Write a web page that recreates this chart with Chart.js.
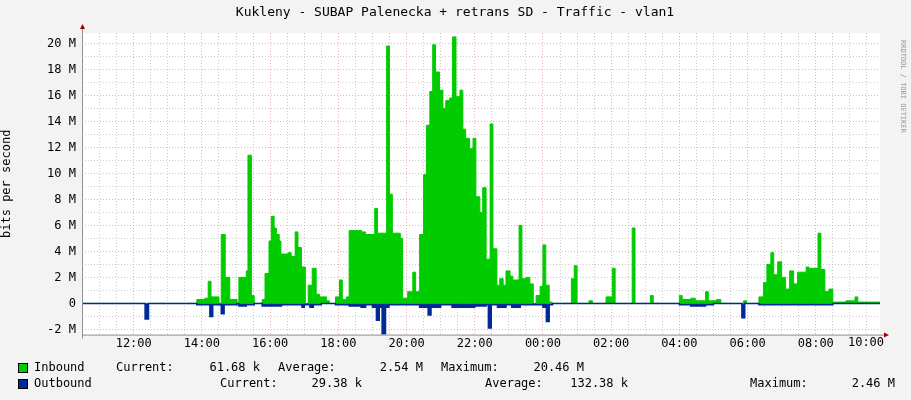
<!DOCTYPE html>
<html><head><meta charset="utf-8">
<script src="https://cdn.jsdelivr.net/npm/chart.js@4/dist/chart.umd.min.js"></script>
<style>html,body{margin:0;background:#f3f3f3}#w{width:911px;height:400px}</style>
</head><body><div id="w"><canvas id="c"></canvas></div>
<script>
// minutes relative to 12:00, values in M bits/s
const inTimes=[-90,111,125,131,136,150,154,161,169,182,185,198,201,207,212,226,231,238,242,247,251,256,259,272,277,284,289,295,302,307,314,321,327,339,344,355,362,367,374,379,401,408,424,429,445,450,455,469,473,482,491,496,503,510,515,521,526,531,538,544,549,556,561,567,574,579,584,591,597,602,609,614,620,627,632,639,644,650,655,662,667,678,683,690,697,703,708,715,720,725,731,736,770,775,780,801,807,831,842,847,877,882,909,914,960,965,980,988,1006,1011,1025,1033,1073,1078,1100,1108,1114,1121,1126,1133,1140,1147,1154,1161,1168,1183,1188,1204,1209,1216,1223,1230,1253,1269,1274,1313];
const inVals=[0,0.3,0.4,1.7,0.5,0,5.3,2.0,0.3,0,2.0,2.5,11.4,0.6,0,0.3,2.3,4.8,6.7,5.8,5.3,4.8,3.8,3.9,3.6,5.5,4.3,2.8,0,1.4,2.7,0.7,0.5,0.2,0,0.5,1.8,0.3,0.5,5.6,5.5,5.3,7.3,5.4,19.8,8.4,5.4,5.0,0.4,0.9,2.4,0.9,5.3,9.9,13.7,16.3,19.9,17.8,16.4,15.0,15.6,15.8,20.5,15.9,16.4,13.4,12.7,11.9,12.7,8.2,7.0,8.9,3.4,13.8,4.2,1.4,1.9,1.4,2.5,2.1,1.8,6.0,1.9,2.0,1.5,0,0.6,1.3,4.5,1.4,0.1,0,1.9,2.9,0,0.2,0,0.5,2.7,0,5.8,0,0.6,0,0.6,0.3,0.4,0.2,0.9,0.2,0.3,0,0.2,0,0.5,1.6,3.0,3.9,2.2,3.2,2.0,1.1,2.5,1.5,2.4,2.8,2.7,5.4,2.6,0.9,1.1,0.1,0.2,0.5,0.1,0.1];
const outTimes=[-90,20,26,111,134,139,154,159,182,185,198,212,226,260,296,300,306,310,316,330,355,379,400,408,420,427,432,437,443,449,480,503,518,523,540,560,600,620,624,629,640,655,665,680,720,726,731,737,960,980,1006,1020,1070,1075,1100,1230,1313];
const outVals=[0,-1.2,0,-0.1,-1.0,-0.1,-0.8,-0.1,0,-0.2,-0.1,0,-0.2,-0.1,-0.3,-0.1,-0.1,-0.3,-0.1,0,-0.1,-0.2,-0.3,-0.1,-0.3,-1.3,-0.3,-2.4,-0.3,-0.1,-0.1,-0.3,-0.9,-0.3,-0.1,-0.3,-0.2,-0.1,-1.9,-0.1,-0.3,-0.1,-0.3,-0.1,-0.3,-1.4,-0.1,0,-0.1,-0.2,-0.1,0,-1.1,0,-0.1,0,0];
const yTickVals=[-2,-1,0,1,2,3,4,5,6,7,8,9,10,11,12,13,14,15,16,17,18,19,20];
const xTickVals=[-60,-30,0,30,60,90,120,150,180,210,240,270,300,330,360,390,420,450,480,510,540,570,600,630,660,690,720,750,780,810,840,870,900,930,960,990,1020,1050,1080,1110,1140,1170,1200,1230,1260,1290];
const title='Kukleny - SUBAP Palenecka + retrans SD - Traffic - vlan1';
// [x, text, align]
const legendRows=[
 {color:'#00cc00',items:[[34,'Inbound','left'],[116,'Current:','left'],[260,'61.68 k','right'],[278,'Average:','left'],[423,'2.54 M','right'],[441,'Maximum:','left'],[584,'20.46 M','right']]},
 {color:'#002a97',items:[[34,'Outbound','left'],[220,'Current:','left'],[362,'29.38 k','right'],[485,'Average:','left'],[628,'132.38 k','right'],[750,'Maximum:','left'],[895,'2.46 M','right']]}
];
const F='"DejaVu Sans Mono", monospace';
const mk=(t,v)=>t.map((x,i)=>({x:x,y:v[i]}));
const deco={id:'deco',
 beforeDraw(c){const g=c.ctx;g.save();g.fillStyle='#f3f3f3';g.fillRect(0,0,c.width,c.height);
  const a=c.chartArea;g.fillStyle='#fff';g.fillRect(a.left,a.top,a.right-a.left,a.bottom-a.top);g.restore();},
 afterDraw(c){const g=c.ctx,a=c.chartArea;g.save();
  g.font='13px '+F;g.fillStyle='#000';g.textAlign='center';g.textBaseline='middle';g.fillText(title,455,13);
  g.font='12px '+F;g.textBaseline='top';g.fillText('10:00',866,a.bottom+2);g.textBaseline='middle';
  g.strokeStyle='#909090';g.lineWidth=1;g.beginPath();g.moveTo(a.left,a.bottom+0.5);g.lineTo(a.right+5,a.bottom+0.5);g.moveTo(a.left+0.5,a.top-4);g.lineTo(a.left+0.5,a.bottom+4);g.stroke();
  g.fillStyle='#a00000';g.beginPath();g.moveTo(a.right+4,a.bottom-2);g.lineTo(a.right+9,a.bottom+0.5);g.lineTo(a.right+4,a.bottom+3);g.fill();
  g.beginPath();g.moveTo(a.left-2,a.top-4);g.lineTo(a.left+0.5,a.top-9);g.lineTo(a.left+3,a.top-4);g.fill();
  g.save();g.translate(903,40);g.rotate(Math.PI/2);g.font='7px '+F;g.fillStyle='#999';g.textAlign='left';g.fillText('RRDTOOL / TOBI OETIKER',0,0);g.restore();
  g.font='12px '+F;g.textBaseline='middle';
  legendRows.forEach((r,i)=>{const y=368+i*16;g.fillStyle=r.color;g.fillRect(18,y-5,10,10);g.strokeStyle='#000';g.strokeRect(18.5,y-4.5,9,9);
   g.fillStyle='#000';r.items.forEach(([x,t,al])=>{g.textAlign=al;g.fillText(t,x,y);});});
  g.restore();}};
new Chart(document.getElementById('c'),{type:'line',
 data:{datasets:[
  {label:'Inbound',data:mk(inTimes,inVals),stepped:'before',fill:'origin',backgroundColor:'#00cc00',borderColor:'#00cc00',borderWidth:1,pointRadius:0,order:2},
  {label:'Outbound',data:mk(outTimes,outVals),stepped:'before',fill:'origin',backgroundColor:'#002a97',borderColor:'#002a97',borderWidth:1.5,pointRadius:0,order:1}]},
 options:{responsive:true,maintainAspectRatio:false,animation:false,
  layout:{padding:{left:0,right:31,top:33,bottom:47}},
  plugins:{legend:{display:false},tooltip:{enabled:false}},
  scales:{
   x:{type:'linear',min:-91,max:1313,afterBuildTicks:s=>{s.ticks=xTickVals.map(v=>({value:v}));},
    ticks:{autoSkip:false,maxRotation:0,font:{family:F,size:12},color:'#000',padding:2,
     callback:v=>v%120===0?String(((12+v/60)%24+24)%24).padStart(2,'0')+':00':''},
    grid:{color:ctx=>(ctx.tick&&ctx.tick.value%120===0)?'rgba(230,120,120,0.6)':'rgba(170,170,170,0.6)',drawTicks:false},
    border:{display:false,dash:[1,2]}},
   y:{min:-2.4,max:20.8,afterBuildTicks:s=>{s.ticks=yTickVals.map(v=>({value:v}));},afterFit:s=>{s.width=82;},
    title:{display:true,text:'bits per second',font:{family:F,size:12},color:'#000',padding:0},
    ticks:{autoSkip:false,font:{family:F,size:12},color:'#000',padding:6,callback:v=>v%2!==0?'':(v===0?'0':v+' M')},
    grid:{color:ctx=>(ctx.tick&&ctx.tick.value%2===0)?'rgba(230,120,120,0.6)':'rgba(170,170,170,0.6)',drawTicks:false},
    border:{display:false,dash:[1,2]}}}},
 plugins:[deco]});
</script></body></html>
